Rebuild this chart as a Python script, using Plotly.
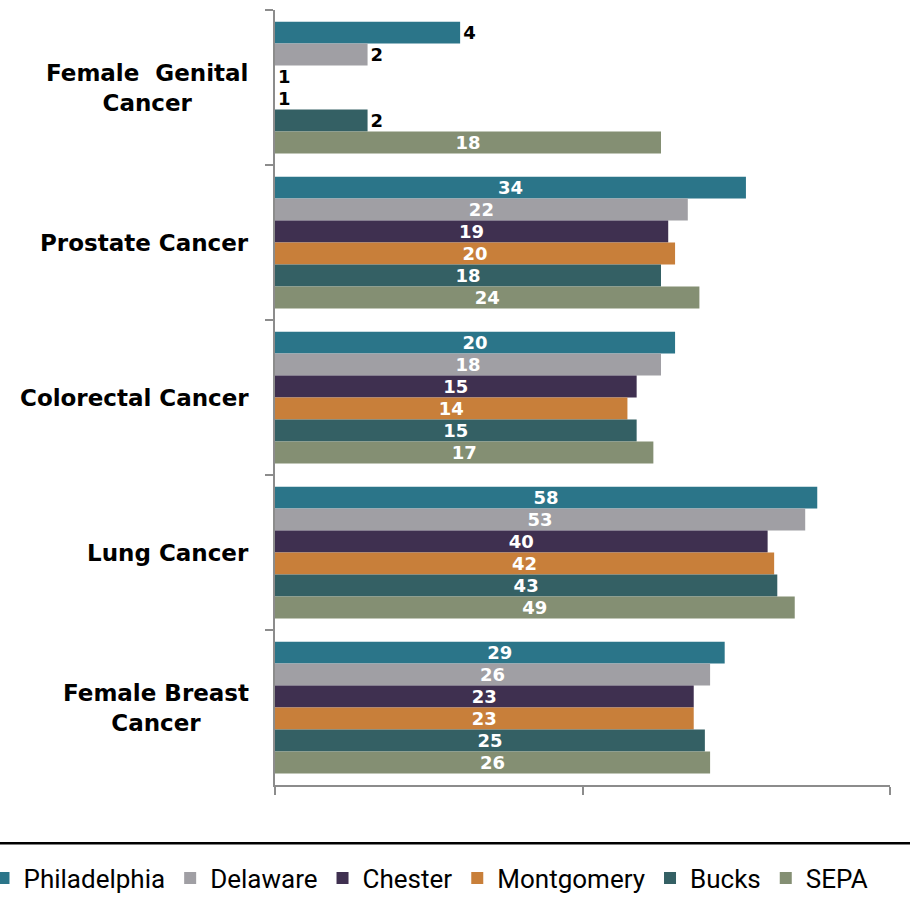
import plotly.graph_objects as go

categories = ["Female  Genital<br>Cancer", "Prostate Cancer", "Colorectal Cancer",
              "Lung Cancer", "Female Breast<br>Cancer"]
series_names = ["Philadelphia", "Delaware", "Chester", "Montgomery", "Bucks", "SEPA"]
philadelphia = [4, 34, 20, 58, 29]
delaware = [2, 22, 18, 53, 26]
chester = [1, 19, 15, 40, 23]
montgomery = [1, 20, 14, 42, 23]
bucks = [2, 18, 15, 43, 25]
sepa = [18, 24, 17, 49, 26]
values = [philadelphia, delaware, chester, montgomery, bucks, sepa]
colors = ["#2B7589", "#A09FA4", "#3F3050", "#C87F3A", "#346064", "#848F73"]

FONT = "DejaVu Sans, sans-serif"

fig = go.Figure()
for name, vals, col in zip(series_names, values, colors):
    pos = ["outside" if v < 10 else "inside" for v in vals]
    fig.add_trace(go.Bar(
        y=categories, x=vals, name=name, orientation="h",
        marker=dict(color=col, line=dict(width=0)),
        text=[str(v) for v in vals], textposition=pos, textangle=0,
        insidetextanchor="middle", constraintext="none",
        textfont=dict(size=18, family=FONT),
        insidetextfont=dict(color="white", size=18, family=FONT),
        outsidetextfont=dict(color="black", size=18, family=FONT),
        texttemplate="<b>%{text}</b>",
        cliponaxis=False,
    ))

for c in categories:
    fig.add_annotation(x=0, xref="paper", y=c, yref="y", text="<b>" + c + "</b>",
                       showarrow=False, xanchor="right", align="center", xshift=-24,
                       font=dict(size=23, color="black", family=FONT))

fig.add_shape(type="line", xref="paper", yref="paper", x0=-1, x1=2,
              y0=-0.075, y1=-0.075, line=dict(color="black", width=2.5))

fig.update_layout(
    width=910, height=911,
    margin=dict(l=275, r=20, t=10, b=126, autoexpand=False),
    plot_bgcolor="white", paper_bgcolor="white",
    barmode="group", bargap=0.15, bargroupgap=0,
    uniformtext=dict(mode=False),
    showlegend=True,
    legend=dict(orientation="h", x=-0.474, xanchor="left", y=-0.12, yanchor="middle",
                bgcolor="rgba(0,0,0,0)",
                font=dict(size=26, color="black", family="Roboto, sans-serif"),
                itemwidth=30, tracegroupgap=0, traceorder="normal"),
    xaxis=dict(type="log", range=[0, 2], showgrid=False, zeroline=False,
               showline=True, linecolor="#8C8C8C", linewidth=2,
               ticks="outside", ticklen=8, tickcolor="#8C8C8C", tickwidth=2,
               tickvals=[1, 10, 100], showticklabels=False),
    yaxis=dict(autorange="reversed", showgrid=False, showline=True,
               linecolor="#8C8C8C", linewidth=2,
               ticks="outside", ticklen=8, tickcolor="#8C8C8C", tickwidth=2,
               tickson="boundaries", showticklabels=False),
)

fig.write_html("out.html", config={"displayModeBar": False},
               post_script="document.body.style.margin='0';document.body.style.overflow='hidden';")
